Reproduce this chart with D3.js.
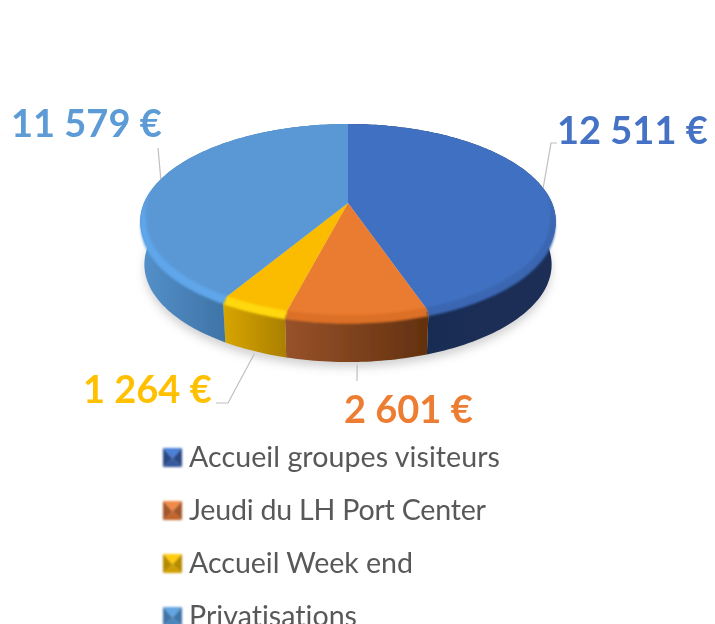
<!DOCTYPE html>
<html lang="fr">
<head>
<meta charset="utf-8">
<script src="https://cdn.jsdelivr.net/npm/d3@7"></script>
<style>
    html, body { margin: 0; padding: 0; background: #fff; overflow: hidden; }
    svg { display: block; }
    text { font-family: Lato, "Open Sans", sans-serif; font-variant-ligatures: none; }
    .value-label { font-weight: 700; font-size: 38px; }
    .legend-label { font-size: 28.6px; fill: #595959; }
</style>
</head>
<body>
<div id="chart"></div>
<script>
// Chart data
const categories = ['Accueil groupes visiteurs', 'Jeudi du LH Port Center', 'Accueil Week end', 'Privatisations'];
const values = [12511, 2601, 1264, 11579];
const valueLabels = ['12 511 €', '2 601 €', '1 264 €', '11 579 €'];

// Colours per slice
const faceColors = ['#4170c1', '#ea7b30', '#fbbc00', '#5a98d5'];
const bevelColors = ['#3a66b2', '#dc7028', '#ffd80a', '#5ea6ea'];
const wallStart = ['#182b50', '#98522a', '#d8a600', '#5490ca'];
const wallEnd = ['#1b2f57', '#62310f', '#ab8000', '#3f75a8'];
const labelColors = ['#4472c4', '#ed7d31', '#ffc000', '#5b9bd5'];
const markerDark = ['#2a4a85', '#a3562a', '#b58a00', '#3f74a8'];
const markerMid = ['#34589c', '#c2652a', '#d09f00', '#4a86bc'];
const markerLight = ['#4b80d8', '#f08a48', '#ffcc10', '#64a6e2'];

const width = 715;
const height = 624;

// Tilted disc: perspective factor and wall depth
const persp = 0.19;
const depth = 43;

const xScale = d3.scaleLinear().domain([-1, 1]).range([144, 552]);
const yScale = d3.scaleLinear().domain([-1, 1]).range([109, 297]);

// Angle clockwise from the top of the disc -> screen point
function project(angle, r = 1, z = 0) {
    const ux = r * Math.sin(angle);
    const uy = -r * Math.cos(angle);
    const w = 1 - persp * uy;
    const cx = xScale(0);
    return [
        cx + (xScale(ux / w) - cx) * (1 - 0.02 * z),
        yScale(uy / w) + depth * z,
    ];
}

function samples(a0, a1) {
    const n = Math.max(2, Math.ceil(Math.abs(a1 - a0) / 0.02));
    return d3.range(n + 1).map(i => a0 + (a1 - a0) * i / n);
}

// Bevel is only visible on the part of the rim facing the viewer
function rimWeight(angle) {
    return Math.max(0, Math.min(1, (-Math.cos(angle) + 0.15) / 0.35));
}

const line = d3.line();

const slices = d3.pie().sort(null).value(d => d)(values);
const midAngle = s => (s.startAngle + s.endAngle) / 2;

const svg = d3.select('#chart').append('svg')
    .attr('width', width)
    .attr('height', height)
    .attr('viewBox', `0 0 ${width} ${height}`);

const defs = svg.append('defs');
defs.append('filter').attr('id', 'soft').attr('filterUnits', 'userSpaceOnUse')
    .attr('x', 0).attr('y', 0).attr('width', width).attr('height', height + 20)
    .append('feGaussianBlur').attr('stdDeviation', 0.6);
defs.append('filter').attr('id', 'bevel').attr('x', '-5%').attr('y', '-10%').attr('width', '110%').attr('height', '120%')
    .append('feGaussianBlur').attr('stdDeviation', 1.2);
defs.append('filter').attr('id', 'shadow').attr('x', '-10%').attr('y', '-20%').attr('width', '120%').attr('height', '140%')
    .append('feGaussianBlur').attr('stdDeviation', 5);
defs.append('filter').attr('id', 'marker').attr('x', '-10%').attr('y', '-10%').attr('width', '120%').attr('height', '120%')
    .append('feGaussianBlur').attr('stdDeviation', 0.9);

slices.forEach((s, i) => {
    const front = samples(s.startAngle, s.endAngle).map(a => project(a)[0]);
    const grad = defs.append('linearGradient')
        .attr('id', `wall-${i}`)
        .attr('gradientUnits', 'userSpaceOnUse')
        .attr('x1', d3.min(front)).attr('x2', i === 3 ? project(s.startAngle)[0] : d3.max(front))
        .attr('y1', 0).attr('y2', 0);
    grad.append('stop').attr('offset', 0).attr('stop-color', wallStart[i]);
    grad.append('stop').attr('offset', 1).attr('stop-color', wallEnd[i]);
});

const root = svg.append('g').attr('filter', 'url(#soft)');

// Soft ground shadow
root.append('path')
    .attr('d', line(samples(0, 2 * Math.PI).map(a => project(a, 1.0, 1.12))) + 'Z')
    .attr('fill', '#8a8a8a')
    .attr('opacity', 0.4)
    .attr('filter', 'url(#shadow)');

// Side walls
root.append('g').selectAll('path')
    .data(slices)
    .join('path')
    .attr('d', s => {
        const angles = samples(s.startAngle, s.endAngle);
        const pts = angles.map(a => project(a, 1, 0))
            .concat(angles.slice().reverse().map(a => project(a, 1, 1)));
        return line(pts) + 'Z';
    })
    .attr('fill', (s, i) => `url(#wall-${i})`);

// Top faces
root.append('g').selectAll('path')
    .data(slices)
    .join('path')
    .attr('d', s => {
        const pts = [project(0, 0)].concat(samples(s.startAngle, s.endAngle).map(a => project(a)));
        return line(pts) + 'Z';
    })
    .attr('fill', (s, i) => faceColors[i]);

// Rounded edge between face and wall
root.append('g').selectAll('path')
    .data(slices)
    .join('path')
    .attr('d', s => {
        const angles = samples(s.startAngle, s.endAngle);
        const pts = angles.map(a => project(a, 1 - 0.028 * rimWeight(a), 0))
            .concat(angles.slice().reverse().map(a => project(a, 1, 0.11 * rimWeight(a))));
        return line(pts) + 'Z';
    })
    .attr('fill', (s, i) => bevelColors[i])
    .attr('filter', 'url(#bevel)');

// Leader lines, from the slice rim out to its label
const leaderEnds = [
    [[551, 143], [557, 143]],
    [[357, 381]],
    [[228, 403], [216, 403]],
    [[158, 148]],
];
const leaderDepth = [0, 1, 1, 0];

root.append('g').selectAll('path')
    .data(slices)
    .join('path')
    .attr('d', (s, i) => {
        const start = project(midAngle(s), 1, leaderDepth[i] * 1.06);
        return line([start].concat(leaderEnds[i]));
    })
    .attr('fill', 'none')
    .attr('stroke', '#bfbfbf')
    .attr('stroke-width', 1.2);

// Value labels
const labelPos = [[557, 144], [344, 423], [83, 403], [11, 137]];

root.append('g').selectAll('text')
    .data(valueLabels)
    .join('text')
    .attr('class', 'value-label')
    .attr('x', (d, i) => labelPos[i][0])
    .attr('y', (d, i) => labelPos[i][1])
    .attr('fill', (d, i) => labelColors[i])
    .text(d => d);

// Legend
const legendY = d3.scalePoint().domain(categories).range([467, 626]);
const legendWidths = [311, 297, 224, 168];
const legend = root.append('g').selectAll('g')
    .data(categories)
    .join('g')
    .attr('transform', d => `translate(163,${legendY(d)})`);

const markerSize = 19;
const markerCenter = [markerSize / 2, -markerSize * 0.45];
// four bevel triangles of each square marker
legend.each(function (d, i) {
    const g = d3.select(this).append('g').attr('filter', 'url(#marker)');
    const c = [[0, -markerSize], [markerSize, -markerSize], [markerSize, 0], [0, 0]];
    const fills = [markerLight[i], markerDark[i], markerMid[i], markerDark[i]];
    c.forEach((p, k) => {
        const q = c[(k + 1) % 4];
        g.append('path')
            .attr('d', line([p, q, markerCenter]) + 'Z')
            .attr('fill', fills[k]);
    });
});

legend.append('text')
    .attr('class', 'legend-label')
    .attr('x', 26)
    .attr('y', 0)
    .attr('textLength', (d, i) => legendWidths[i])
    .attr('lengthAdjust', 'spacing')
    .text(d => d);
</script>
</body>
</html>
